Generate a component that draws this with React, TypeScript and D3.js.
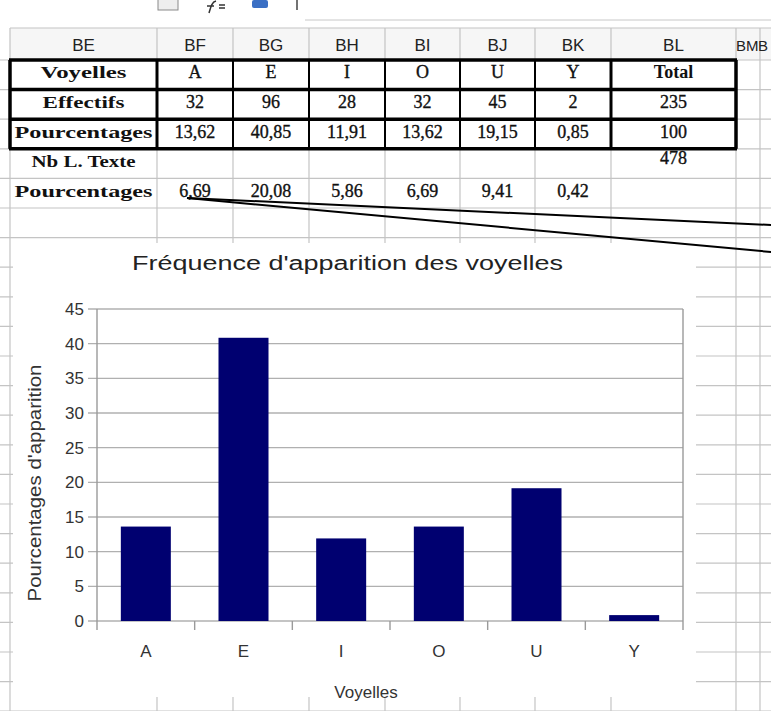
import React, { useEffect, useRef } from "react";
import * as d3 from "d3";

const columnLetters = ["BE", "BF", "BG", "BH", "BI", "BJ", "BK", "BL", "BM"];
const vowels = ["A", "E", "I", "O", "U", "Y"];
const effectifs = [32, 96, 28, 32, 45, 2];
const totalEffectif = 235;
const pourcentages = [13.62, 40.85, 11.91, 13.62, 19.15, 0.85];
const totalPourcentage = 100;
const nbLettresTexte = 478;
const pourcentagesTexte = [6.69, 20.08, 5.86, 6.69, 9.41, 0.42];
const yTicks = [0, 5, 10, 15, 20, 25, 30, 35, 40, 45];

const W = 771;
const H = 711;

export default function App() {
  const ref = useRef<SVGSVGElement>(null);

  useEffect(() => {
    const svg = d3.select(ref.current).attr("width", W).attr("height", H);
    svg.selectAll("*").remove();

    const serif = "'Liberation Serif', 'Times New Roman', serif";
    const sans = "'Liberation Sans', Arial, sans-serif";
    const fr = (v: number) => (Number.isInteger(v) ? String(v) : d3.format(".2f")(v).replace(".", ","));

    svg.append("rect").attr("width", W).attr("height", H).attr("fill", "#ffffff");

    // toolbar remnants
    svg.append("rect").attr("x", 158).attr("y", -2).attr("width", 20).attr("height", 12)
      .attr("fill", "#eeeeee").attr("stroke", "#8a8a8a");
    svg.append("path").attr("d", "M209,13 C211,6 212,2 216,1 M207,6 L214,6 M219,5 L225,5 M219,8 L225,8")
      .attr("stroke", "#333").attr("stroke-width", 1.5).attr("fill", "none");
    svg.append("rect").attr("x", 252).attr("y", 0).attr("width", 16).attr("height", 8).attr("rx", 2)
      .attr("fill", "#3a6fc4");
    svg.append("line").attr("x1", 297).attr("x2", 297).attr("y1", 0).attr("y2", 10)
      .attr("stroke", "#444").attr("stroke-width", 1.5);
    svg.append("line").attr("x1", 305).attr("x2", W).attr("y1", 20).attr("y2", 20)
      .attr("stroke", "#c8c8c8");

    // spreadsheet grid
    const colEdges = [10, 157, 233, 309, 385, 460, 535, 611, 736, 760, 790];
    const headTop = 28;
    const rowTop = 60;
    const rowH = 29.6;
    const rowEdges = d3.range(0, 23).map((k) => rowTop + k * rowH);

    svg.append("rect").attr("x", 10).attr("y", headTop).attr("width", W - 10).attr("height", rowTop - headTop)
      .attr("fill", "#f6f6f6");

    const grid = svg.append("g").attr("stroke", "#c4c4c4").attr("stroke-width", 1.2);
    grid.append("line").attr("x1", 10).attr("x2", W).attr("y1", headTop).attr("y2", headTop);
    rowEdges.forEach((y) => {
      grid.append("line").attr("x1", 0).attr("x2", W).attr("y1", y).attr("y2", y);
    });
    colEdges.forEach((x) => {
      grid.append("line").attr("x1", x).attr("x2", x).attr("y1", headTop).attr("y2", H);
    });

    const colCenter = (i: number) => (colEdges[i] + colEdges[i + 1]) / 2;

    // column headers
    columnLetters.forEach((c, i) => {
      svg.append("text")
        .attr("x", i === 8 ? 736 : colCenter(i))
        .attr("y", 51)
        .attr("text-anchor", i === 8 ? "start" : "middle")
        .attr("font-family", sans)
        .attr("font-size", i === 8 ? 15 : 17)
        .attr("fill", "#222")
        .text(c);
    });
    svg.append("text").attr("x", 758).attr("y", 51).attr("font-family", sans).attr("font-size", 15)
      .attr("fill", "#222").text("B");

    // table rows
    const baseline = (r: number) => rowTop + r * rowH + rowH / 2 + 3.5;
    const label = (r: number, t: string, len: number) =>
      svg.append("text")
        .attr("x", colCenter(0))
        .attr("y", baseline(r))
        .attr("text-anchor", "middle")
        .attr("font-family", serif)
        .attr("font-weight", "bold")
        .attr("font-size", 17)
        .attr("textLength", len)
        .attr("lengthAdjust", "spacingAndGlyphs")
        .attr("fill", "#111")
        .text(t);
    const cell = (r: number, c: number, t: string, bold = false, dy = 0) =>
      svg.append("text")
        .attr("x", colCenter(c))
        .attr("y", baseline(r) + dy)
        .attr("text-anchor", "middle")
        .attr("font-family", serif)
        .attr("font-weight", bold ? "bold" : "normal")
        .attr("font-size", 18)
        .attr("fill", "#111")
        .attr("stroke", "#111")
        .attr("stroke-width", bold ? 0 : 0.35)
        .text(t);

    label(0, "Voyelles", 86);
    label(1, "Effectifs", 82);
    label(2, "Pourcentages", 138);
    label(3, "Nb L. Texte", 104);
    label(4, "Pourcentages", 138);

    vowels.forEach((v, i) => cell(0, i + 1, v));
    cell(0, 7, "Total", true);
    effectifs.forEach((v, i) => cell(1, i + 1, String(v)));
    cell(1, 7, String(totalEffectif));
    pourcentages.forEach((v, i) => cell(2, i + 1, fr(v)));
    cell(2, 7, fr(totalPourcentage));
    cell(3, 7, String(nbLettresTexte), false, -3);
    pourcentagesTexte.forEach((v, i) => cell(4, i + 1, fr(v)));

    // thick borders of the table
    const tb = svg.append("g").attr("stroke", "#000");
    [0, 1, 2, 3].forEach((k) => {
      tb.append("line").attr("x1", 9).attr("x2", 737).attr("y1", rowEdges[k]).attr("y2", rowEdges[k])
        .attr("stroke-width", 3.5);
    });
    colEdges.slice(0, 9).forEach((x, i) => {
      tb.append("line").attr("x1", x).attr("x2", x).attr("y1", rowEdges[0]).attr("y2", rowEdges[3])
        .attr("stroke-width", i === 0 || i === 8 ? 3.5 : i === 1 || i === 7 ? 3 : 2);
    });

    // chart object
    const chartBox = { x: 13, y: 243, w: 683, h: 454 };
    svg.append("rect").attr("x", chartBox.x).attr("y", chartBox.y).attr("width", chartBox.w)
      .attr("height", chartBox.h).attr("fill", "#ffffff");

    const plot = { left: 97, right: 683, top: 309, bottom: 621 };
    const x = d3.scaleBand().domain(vowels).range([plot.left, plot.right]).paddingInner(0.488).paddingOuter(0.244);
    const y = d3.scaleLinear().domain([0, 45]).range([plot.bottom, plot.top]);

    // grid lines
    svg.append("g")
      .selectAll("line")
      .data(yTicks)
      .join("line")
      .attr("x1", plot.left - 9)
      .attr("x2", plot.right)
      .attr("y1", (d) => y(d))
      .attr("y2", (d) => y(d))
      .attr("stroke", "#b0b0b0")
      .attr("stroke-width", 1.4);

    // bars
    svg.append("g")
      .selectAll("rect")
      .data(pourcentages)
      .join("rect")
      .attr("x", (d, i) => x(vowels[i])!)
      .attr("y", (d) => y(d))
      .attr("width", x.bandwidth())
      .attr("height", (d) => y(0) - y(d))
      .attr("fill", "#000070");

    // frame and category ticks
    const step = x.step();
    const bounds = vowels.map((v) => x(v)! - (step - x.bandwidth()) / 2).concat([plot.right]);
    svg.append("g")
      .selectAll("line")
      .data(bounds)
      .join("line")
      .attr("x1", (d) => d)
      .attr("x2", (d) => d)
      .attr("y1", (d, i) => (i === 0 || i === bounds.length - 1 ? plot.top : plot.bottom))
      .attr("y2", plot.bottom + 9)
      .attr("stroke", "#9a9a9a")
      .attr("stroke-width", 1.4);

    // y tick labels
    svg.append("g")
      .selectAll("text")
      .data(yTicks)
      .join("text")
      .attr("x", plot.left - 13)
      .attr("y", (d) => y(d) + 6)
      .attr("text-anchor", "end")
      .attr("font-family", sans)
      .attr("font-size", 17)
      .attr("fill", "#333")
      .text((d) => d);

    // x tick labels
    svg.append("g")
      .selectAll("text")
      .data(vowels)
      .join("text")
      .attr("x", (d) => x(d)! + x.bandwidth() / 2)
      .attr("y", 657)
      .attr("text-anchor", "middle")
      .attr("font-family", sans)
      .attr("font-size", 17)
      .attr("fill", "#333")
      .text((d) => d);

    // axis titles
    svg.append("text")
      .attr("x", 366)
      .attr("y", 698)
      .attr("text-anchor", "middle")
      .attr("font-family", sans)
      .attr("font-size", 17)
      .attr("fill", "#333")
      .text("Voyelles");

    svg.append("text")
      .attr("transform", `translate(41, 483) rotate(-90)`)
      .attr("text-anchor", "middle")
      .attr("font-family", sans)
      .attr("font-size", 19)
      .attr("textLength", 237)
      .attr("lengthAdjust", "spacingAndGlyphs")
      .attr("fill", "#333")
      .text("Pourcentages d'apparition");

    // title
    svg.append("text")
      .attr("x", 347.5)
      .attr("y", 270)
      .attr("text-anchor", "middle")
      .attr("font-family", sans)
      .attr("font-size", 20)
      .attr("textLength", 431)
      .attr("lengthAdjust", "spacingAndGlyphs")
      .attr("fill", "#222")
      .text("Fréquence d'apparition des voyelles");

    // leader lines from the 6,69 cell
    const leader = svg.append("g").attr("stroke", "#000").attr("stroke-width", 2).attr("fill", "none");
    leader.append("line").attr("x1", 187).attr("y1", 198).attr("x2", W).attr("y2", 225);
    leader.append("line").attr("x1", 187).attr("y1", 198).attr("x2", W).attr("y2", 252);
  }, []);

  return <svg ref={ref} style={{ position: "absolute", left: 0, top: 0, display: "block" }} />;
}
